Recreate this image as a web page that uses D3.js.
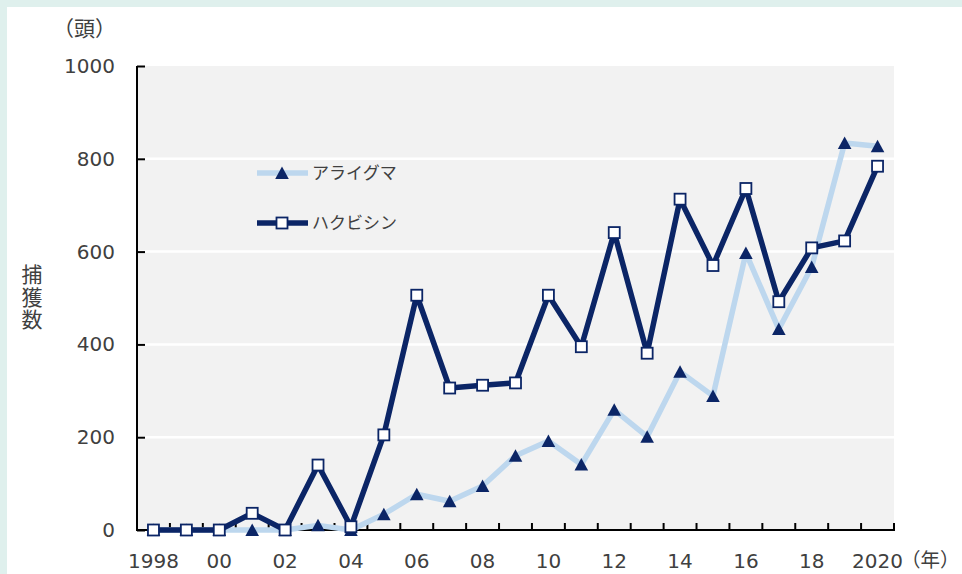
<!DOCTYPE html>
<html><head><meta charset="utf-8">
<script src="https://cdn.jsdelivr.net/npm/d3@7/dist/d3.min.js"></script>
<style>
html,body{margin:0;padding:0;background:#fff;}
svg{display:block;}
text{font-family:"DejaVu Sans","Noto Sans CJK JP",sans-serif;fill:#404040;}
</style></head>
<body>
<svg id="c" width="962" height="574"></svg>
<script>
const years = ["1998","1999","2000","2001","2002","2003","2004","2005","2006","2007","2008","2009","2010","2011","2012","2013","2014","2015","2016","2017","2018","2019","2020"];
const yearLabels = {"1998":"1998","2000":"00","2002":"02","2004":"04","2006":"06","2008":"08","2010":"10","2012":"12","2014":"14","2016":"16","2018":"18","2020":"2020"};
const araiguma = [0,0,0,0,0,10,0,34,77,62,95,160,192,141,259,201,341,289,597,433,567,834,827];
const hakubishin = [0,0,0,36,0,140,7,205,506,306,312,317,506,395,641,381,713,570,736,492,608,623,784];
const yTicks = [0,200,400,600,800,1000];
const seriesNames = ["アライグマ","ハクビシン"];

const svg = d3.select("#c");
const W = 962, H = 574;
const L = 137, R = 894, T = 66, B = 530;
const navy = "#0b2566", light = "#bdd7ee";

// frame
svg.append("rect").attr("x",0).attr("y",0).attr("width",W).attr("height",H).attr("fill","#dff0ed");
svg.append("rect").attr("x",7).attr("y",7).attr("width",W-7).attr("height",H-7).attr("fill","#fff");

const x = d3.scaleBand().domain(years).range([L,R]).paddingInner(0).paddingOuter(0);
const y = d3.scaleLinear().domain([0,1000]).range([B,T]);
const cx = d => x(d) + x.bandwidth()/2;

// plot bg
svg.append("rect").attr("x",L).attr("y",T).attr("width",R-L).attr("height",B-T).attr("fill","#f2f2f2");
// grid
svg.append("g").selectAll("line").data(yTicks.filter(v=>v>0&&v<1000)).join("line")
  .attr("x1",L).attr("x2",R).attr("y1",d=>y(d)).attr("y2",d=>y(d))
  .attr("stroke","#fff").attr("stroke-width",2.5);

// y axis
const yAxis = d3.axisLeft(y).tickValues(yTicks).tickSize(-8).tickPadding(22).tickFormat(d3.format("d"));
const gy = svg.append("g").attr("transform",`translate(${L},0)`).call(yAxis);
gy.select(".domain").attr("stroke","#000").attr("stroke-width",2).attr("d",`M0,${T}V${B}`);
gy.selectAll(".tick line").attr("stroke","#000").attr("stroke-width",2);
gy.selectAll(".tick text").attr("font-size",20).attr("fill","#404040")
  .attr("font-family","DejaVu Sans").attr("x",-22);

// x axis: ticks at boundaries
const boundaries = years.map(d=>x(d)).concat([R]);
svg.append("g").selectAll("line").data(boundaries).join("line")
  .attr("x1",d=>d).attr("x2",d=>d).attr("y1",B).attr("y2",B-7)
  .attr("stroke","#000").attr("stroke-width",2);
svg.append("line").attr("x1",L-1).attr("x2",R+1).attr("y1",B).attr("y2",B).attr("stroke","#000").attr("stroke-width",2);
svg.append("g").selectAll("text").data(years.filter(d=>yearLabels[d])).join("text")
  .attr("x",d=>cx(d)).attr("y",568).attr("text-anchor","middle").attr("font-size",20)
  .text(d=>yearLabels[d]);

// unit labels
svg.append("text").attr("x",116).attr("y",36).attr("text-anchor","end").attr("font-size",21)
  .attr("font-family","Noto Sans CJK JP").text("（頭）");
svg.append("text").attr("x",901).attr("y",567).attr("font-size",19.5)
  .attr("font-family","Noto Sans CJK JP").text("（年）");
// y title vertical
svg.append("g").selectAll("text").data(["捕","獲","数"]).join("text")
  .attr("x",32).attr("y",(d,i)=>282+i*22.5).attr("text-anchor","middle").attr("font-size",21)
  .attr("font-family","Noto Sans CJK JP").text(d=>d);

const line = d3.line().x((d,i)=>cx(years[i])).y(d=>y(d));
const triPath = (px,py) => `M${px},${py-6.5}L${px+6.8},${py+6}L${px-6.8},${py+6}Z`;

// series 1
svg.append("path").datum(araiguma).attr("d",line).attr("fill","none")
  .attr("stroke",light).attr("stroke-width",5.5).attr("stroke-linejoin","round");
svg.append("g").selectAll("path").data(araiguma).join("path")
  .attr("d",(d,i)=>triPath(cx(years[i]),y(d))).attr("fill",navy);

// series 2
svg.append("path").datum(hakubishin).attr("d",line).attr("fill","none")
  .attr("stroke",navy).attr("stroke-width",5.5).attr("stroke-linejoin","round");
svg.append("g").selectAll("rect").data(hakubishin).join("rect")
  .attr("x",(d,i)=>cx(years[i])-5.5).attr("y",d=>y(d)-5.5).attr("width",11).attr("height",11)
  .attr("fill","#fff").attr("stroke",navy).attr("stroke-width",1.8);

// legend
const lg = svg.append("g");
[[light,"tri",173],[navy,"sq",223]].forEach((s,i)=>{
  lg.append("line").attr("x1",257).attr("x2",308).attr("y1",s[2]).attr("y2",s[2])
    .attr("stroke",s[0]).attr("stroke-width",5.5);
  if(s[1]==="tri") lg.append("path").attr("d",triPath(282,s[2])).attr("fill",navy);
  else lg.append("rect").attr("x",282-5.5).attr("y",s[2]-5.5).attr("width",11).attr("height",11)
    .attr("fill","#fff").attr("stroke",navy).attr("stroke-width",1.8);
  lg.append("text").attr("x",312).attr("y",s[2]+6).attr("font-size",17)
    .attr("font-family","Noto Sans CJK JP").text(seriesNames[i]);
});
</script>
</body></html>
